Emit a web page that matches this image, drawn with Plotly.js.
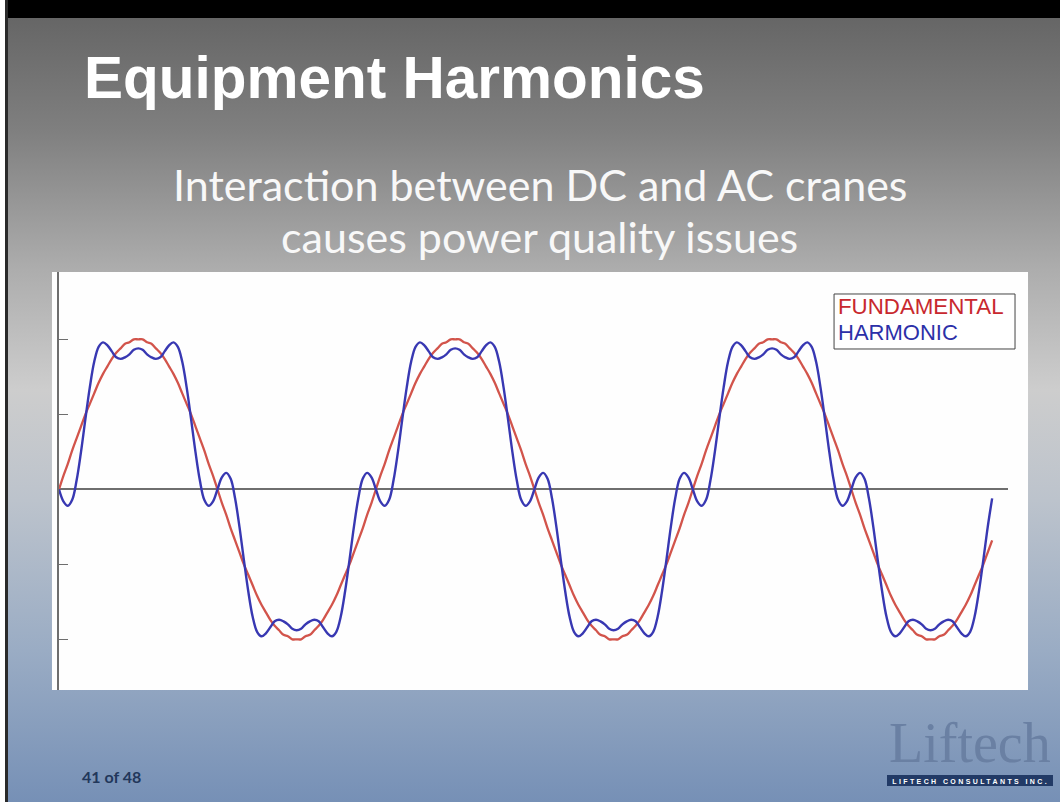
<!DOCTYPE html>
<html>
<head>
<meta charset="utf-8">
<script src="https://cdn.plot.ly/plotly-3.0.1.min.js"></script>
<style>
html,body{margin:0;padding:0;background:#fff;}
#slide{position:absolute;left:0;top:0;width:1060px;height:802px;overflow:hidden;background:#fff;}
#bg{position:absolute;left:5px;top:0;width:1055px;height:802px;border-left:3px solid #2a2a2a;box-sizing:border-box;
background:linear-gradient(to bottom,#000 0px,#000 18px,#666 18px,#7f7f7f 130px,#adadad 270px,#cdcdcd 390px,#bcc3cc 500px,#9aacc4 650px,#7690b6 802px);}
#chart{position:absolute;left:0;top:0;width:1060px;height:802px;}
</style>
</head>
<body>
<div id="slide"><div id="bg"></div><div id="chart"></div></div>
<script>
// phase axis in degrees, one sample every 5 degrees starting at 0
const phaseStartDeg = 0;
const phaseStepDeg = 5;

// FUNDAMENTAL (red) values, cycle by cycle
const fundamentalCycle1 = [0, 0.09, 0.17, 0.26, 0.34, 0.42, 0.5, 0.57, 0.64, 0.71, 0.77, 0.82, 0.87, 0.91, 0.94, 0.97, 0.98, 1.0, 1.0, 1.0, 0.98, 0.97, 0.94, 0.91, 0.87, 0.82, 0.77, 0.71, 0.64, 0.57, 0.5, 0.42, 0.34, 0.26, 0.17, 0.09,
  0, -0.09, -0.17, -0.26, -0.34, -0.42, -0.5, -0.57, -0.64, -0.71, -0.77, -0.82, -0.87, -0.91, -0.94, -0.97, -0.98, -1.0, -1.0, -1.0, -0.98, -0.97, -0.94, -0.91, -0.87, -0.82, -0.77, -0.71, -0.64, -0.57, -0.5, -0.42, -0.34, -0.26, -0.17, -0.09];
const fundamentalCycle2 = [0, 0.09, 0.17, 0.26, 0.34, 0.42, 0.5, 0.57, 0.64, 0.71, 0.77, 0.82, 0.87, 0.91, 0.94, 0.97, 0.98, 1.0, 1.0, 1.0, 0.98, 0.97, 0.94, 0.91, 0.87, 0.82, 0.77, 0.71, 0.64, 0.57, 0.5, 0.42, 0.34, 0.26, 0.17, 0.09,
  0, -0.09, -0.17, -0.26, -0.34, -0.42, -0.5, -0.57, -0.64, -0.71, -0.77, -0.82, -0.87, -0.91, -0.94, -0.97, -0.98, -1.0, -1.0, -1.0, -0.98, -0.97, -0.94, -0.91, -0.87, -0.82, -0.77, -0.71, -0.64, -0.57, -0.5, -0.42, -0.34, -0.26, -0.17, -0.09];
const fundamentalCycle3 = [0, 0.09, 0.17, 0.26, 0.34, 0.42, 0.5, 0.57, 0.64, 0.71, 0.77, 0.82, 0.87, 0.91, 0.94, 0.97, 0.98, 1.0, 1.0, 1.0, 0.98, 0.97, 0.94, 0.91, 0.87, 0.82, 0.77, 0.71, 0.64, 0.57, 0.5, 0.42, 0.34, 0.26, 0.17, 0.09,
  0, -0.09, -0.17, -0.26, -0.34, -0.42, -0.5, -0.57, -0.64, -0.71, -0.77, -0.82, -0.87, -0.91, -0.94, -0.97, -0.98, -1.0, -1.0, -1.0, -0.98, -0.97, -0.94, -0.91, -0.87, -0.82, -0.77, -0.71, -0.64, -0.57, -0.5, -0.42, -0.34];

// HARMONIC (blue) values, cycle by cycle
const harmonicCycle1 = [0, -0.08, -0.11, -0.07, 0.06, 0.25, 0.47, 0.68, 0.85, 0.95, 0.98, 0.96, 0.92, 0.88, 0.87, 0.88, 0.90, 0.93, 0.94, 0.93, 0.90, 0.88, 0.87, 0.88, 0.92, 0.96, 0.98, 0.95, 0.85, 0.68, 0.47, 0.25, 0.06, -0.07, -0.11, -0.08,
  0, 0.08, 0.11, 0.07, -0.06, -0.25, -0.47, -0.68, -0.85, -0.95, -0.98, -0.96, -0.92, -0.88, -0.87, -0.88, -0.90, -0.93, -0.94, -0.93, -0.90, -0.88, -0.87, -0.88, -0.92, -0.96, -0.98, -0.95, -0.85, -0.68, -0.47, -0.25, -0.06, 0.07, 0.11, 0.08];
const harmonicCycle2 = [0, -0.08, -0.11, -0.07, 0.06, 0.25, 0.47, 0.68, 0.85, 0.95, 0.98, 0.96, 0.92, 0.88, 0.87, 0.88, 0.90, 0.93, 0.94, 0.93, 0.90, 0.88, 0.87, 0.88, 0.92, 0.96, 0.98, 0.95, 0.85, 0.68, 0.47, 0.25, 0.06, -0.07, -0.11, -0.08,
  0, 0.08, 0.11, 0.07, -0.06, -0.25, -0.47, -0.68, -0.85, -0.95, -0.98, -0.96, -0.92, -0.88, -0.87, -0.88, -0.90, -0.93, -0.94, -0.93, -0.90, -0.88, -0.87, -0.88, -0.92, -0.96, -0.98, -0.95, -0.85, -0.68, -0.47, -0.25, -0.06, 0.07, 0.11, 0.08];
const harmonicCycle3 = [0, -0.08, -0.11, -0.07, 0.06, 0.25, 0.47, 0.68, 0.85, 0.95, 0.98, 0.96, 0.92, 0.88, 0.87, 0.88, 0.90, 0.93, 0.94, 0.93, 0.90, 0.88, 0.87, 0.88, 0.92, 0.96, 0.98, 0.95, 0.85, 0.68, 0.47, 0.25, 0.06, -0.07, -0.11, -0.08,
  0, 0.08, 0.11, 0.07, -0.06, -0.25, -0.47, -0.68, -0.85, -0.95, -0.98, -0.96, -0.92, -0.88, -0.87, -0.88, -0.90, -0.93, -0.94, -0.93, -0.90, -0.88, -0.87, -0.88, -0.92, -0.96, -0.98, -0.95, -0.85, -0.68, -0.47, -0.25, -0.06];

const yTickValues = [-1, -0.5, 0.5, 1];
const seriesNames = ['FUNDAMENTAL', 'HARMONIC'];

const fundamental = fundamentalCycle1.concat(fundamentalCycle2, fundamentalCycle3);
const harmonic = harmonicCycle1.concat(harmonicCycle2, harmonicCycle3);

const traces = [
  {type:'scatter', mode:'lines', name:seriesNames[0], x0:phaseStartDeg, dx:phaseStepDeg, y:fundamental,
   line:{color:'#d2544b', width:2.3, shape:'spline', smoothing:1}, hoverinfo:'skip'},
  {type:'scatter', mode:'lines', name:seriesNames[1], x0:phaseStartDeg, dx:phaseStepDeg, y:harmonic,
   line:{color:'#3838b2', width:2.4, shape:'spline', smoothing:1}, hoverinfo:'skip'}
];

const layout = {
  width:1060, height:802,
  margin:{l:59, r:52, t:272, b:112},
  paper_bgcolor:'rgba(0,0,0,0)', plot_bgcolor:'rgba(0,0,0,0)',
  showlegend:false,
  title:{text:'<b>Equipment Harmonics</b>', xref:'container', yref:'container', x:0.0792, xanchor:'left', y:0.9293, yanchor:'top',
         font:{family:'Liberation Sans, Arial, sans-serif', size:58.5, color:'#ffffff'}},
  xaxis:{range:[0,1078], showgrid:false, zeroline:false, showline:false, showticklabels:false, ticks:'', fixedrange:true},
  yaxis:{range:[-1.338,1.449], showgrid:false, zeroline:true, zerolinecolor:'#6e6e6e', zerolinewidth:2,
         showline:true, linecolor:'#6e6e6e', linewidth:2, ticks:'inside', ticklen:9, tickwidth:1.5, tickcolor:'#6e6e6e',
         tickmode:'array', tickvals:yTickValues, showticklabels:false, fixedrange:true},
  shapes:[
    {type:'rect', xref:'paper', yref:'paper', x0:-0.0074, x1:1.0211, y0:0, y1:1, fillcolor:'#fefefe', line:{width:0}, layer:'below'},
    {type:'rect', xref:'paper', yref:'paper', x0:0.8167, x1:1.0074, y0:0.8158, y1:0.9474, fillcolor:'#ffffff', line:{color:'#444444', width:1}, layer:'above'},
    {type:'rect', xref:'paper', yref:'paper', x0:0.8725, x1:1.0474, y0:-0.2297, y1:-0.2033, fillcolor:'#223a66', line:{width:0}, layer:'above'}
  ],
  annotations:[
    {text:'Interaction between DC and AC cranes', xref:'paper', yref:'paper', x:0.5068, y:1.2096, xanchor:'center', yanchor:'middle', showarrow:false,
     font:{family:'Lato, sans-serif', size:43, color:'#f8f8f8'}},
    {text:'causes power quality issues', xref:'paper', yref:'paper', x:0.5068, y:1.0852, xanchor:'center', yanchor:'middle', showarrow:false,
     font:{family:'Lato, sans-serif', size:43, color:'#f8f8f8'}},
    {text:seriesNames[0], xref:'paper', yref:'paper', x:0.8188, y:0.9163, xanchor:'left', yanchor:'middle', showarrow:false,
     font:{family:'Liberation Sans, Arial, sans-serif', size:22.3, color:'#c8282e'}},
    {text:seriesNames[1], xref:'paper', yref:'paper', x:0.8188, y:0.8548, xanchor:'left', yanchor:'middle', showarrow:false,
     font:{family:'Liberation Sans, Arial, sans-serif', size:22, color:'#2c30a8'}},
    {text:'<b>41 of 48</b>', xref:'paper', yref:'paper', x:0.0218, y:-0.2069, xanchor:'left', yanchor:'middle', showarrow:false,
     font:{family:'Lato, sans-serif', size:16, color:'#22375b'}},
    {text:'Liftech', xref:'paper', yref:'paper', x:0.96, y:-0.1268, xanchor:'center', yanchor:'middle', showarrow:false, borderpad:0,
     font:{family:'Liberation Serif, Times New Roman, serif', size:56, color:'#6a80a3'}},
    {text:'<b>LIFTECH CONSULTANTS INC.</b>', xref:'paper', yref:'paper', x:0.96, y:-0.2189, xanchor:'center', yanchor:'middle', showarrow:false, borderpad:0,
     font:{family:'Liberation Sans, Arial, sans-serif', size:7, color:'#ffffff'}}
  ]
};

Plotly.newPlot('chart', traces, layout, {staticPlot:true, displayModeBar:false}).then(function(gd){
  const groups = gd.querySelectorAll('g.annotation');
  groups.forEach(function(g){
    const t = g.querySelector('text.annotation-text');
    if (t && t.textContent === 'LIFTECH CONSULTANTS INC.') { t.style.letterSpacing = '2.4px'; }
  });
});
</script>
</body>
</html>
